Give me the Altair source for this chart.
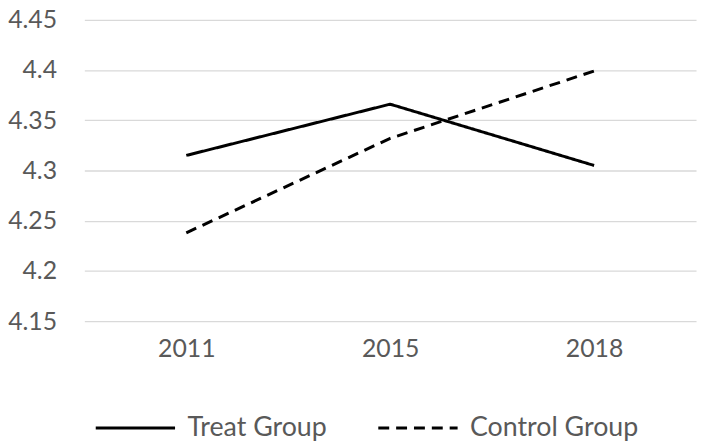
import altair as alt
import pandas as pd

years = ["2011", "2015", "2018"]
treat = [4.315, 4.366, 4.305]
control = [4.238, 4.332, 4.399]
series_names = ["Treat Group", "Control Group"]
y_ticks = [4.15, 4.2, 4.25, 4.3, 4.35, 4.4, 4.45]

rows = []
for name, vals in zip(series_names, [treat, control]):
    for yr, v in zip(years, vals):
        rows.append({"Year": yr, "Value": v, "Series": name})
df = pd.DataFrame(rows)

FONT = "Lato"
GREY = "#595959"

chart = alt.Chart(df).mark_line(strokeWidth=3, color="black").encode(
    x=alt.X("Year:O", sort=years, title=None,
            axis=alt.Axis(labelAngle=0, labelFontSize=25, labelFont=FONT, labelColor=GREY,
                          ticks=False, tickSize=0, domain=False, grid=False, labelPadding=16)),
    y=alt.Y("Value:Q", title=None,
            scale=alt.Scale(domain=[4.15, 4.45], nice=False, zero=False),
            axis=alt.Axis(values=y_ticks, format=".2~f", labelFontSize=25, labelFont=FONT,
                          labelColor=GREY, ticks=False, tickSize=0, domain=False,
                          grid=True, gridColor="#d9d9d9", gridWidth=1.3, labelPadding=28)),
    strokeDash=alt.StrokeDash("Series:N", sort=series_names,
                              scale=alt.Scale(domain=series_names, range=[[1, 0], [11, 7]]),
                              legend=alt.Legend(title=None, orient="none", direction="horizontal",
                                                legendX=10, legendY=370,
                                                symbolType="stroke", symbolSize=6400,
                                                symbolStrokeWidth=3, symbolStrokeColor="black",
                                                labelFontSize=27, labelFont=FONT, labelColor=GREY,
                                                labelLimit=400,
                                                labelOffset=11, columnPadding=45, padding=0)),
    detail="Series:N",
).properties(
    width=617, height=304,
    autosize=alt.AutoSizeParams(type="none"),
    padding={"left": 77, "top": 10, "right": 5, "bottom": 124},
).configure_view(stroke=None)

chart.save("out.html", embed_options={"renderer": "svg", "actions": False})
